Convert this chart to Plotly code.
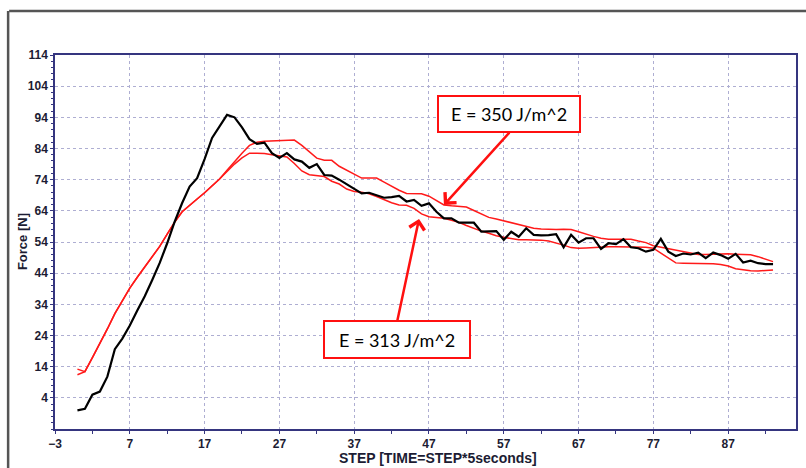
import plotly.graph_objects as go

# ---------------- data ----------------
steps = list(range(0, 94))

measured = [0, 0.5, 5, 6, 10.8, 19.6, 23, 27.2, 32, 36.6,
            41.8, 47.3, 53.6, 60.5, 66.5, 71.8, 74.5, 80.6, 87.4, 91.2,
            94.8, 94, 90.8, 87, 85.5, 85.9, 82.5, 81, 82.5, 80.5,
            79.8, 77.8, 79, 75.5, 75.3, 74, 72.5, 71, 69.6, 69.8,
            69, 68.2, 68.4, 68.8, 67, 67.5, 65.6, 66.4, 63.7, 61.6,
            61.6, 60.2, 60.2, 60.2, 57.3, 57.5, 57.5, 54.7, 57.3, 55.7,
            58.4, 56.3, 56.1, 56.2, 56.5, 52.3, 56.3, 53.8, 55.2, 55.2,
            51.8, 53.6, 53.3, 54.9, 52.3, 52, 50.9, 51.5, 55, 50.9,
            49.5, 50.3, 50, 50.6, 48.8, 50.6, 49.8, 48.6, 50.2, 47.4,
            48, 47.2, 46.9, 46.9]

sim_350 = [13.2, 12.4, 16.9, 21.4, 26.1, 31, 35.2, 39.2, 42.7, 46,
           49.3, 52.6, 56.5, 60.4, 63.7, 65.9, 67.8, 69.8, 71.9, 74.2,
           77, 79.8, 82.5, 85, 86, 86.3, 86.4, 86.5, 86.6, 86.7,
           85, 83, 80.9, 80.2, 80.2, 78.3, 77, 75.7, 74.5, 74.5,
           74.5, 73.2, 71.8, 70.6, 69.6, 69.5, 69.5, 68.7, 67.3, 65.9,
           65.6, 65.4, 65.2, 64.1, 63, 61.9, 61.4, 60.8, 60.2, 59.6,
           59, 58.4, 58.2, 58, 58, 58.1, 58, 57.3, 56.5, 55.8,
           55.2, 54.9, 54.9, 54.9, 54.9, 54.3, 53.8, 52.8, 52.3, 51.8,
           51.3, 50.9, 50.4, 50, 50, 50.1, 50.2, 50.2, 50.1, 50.1,
           49.9, 49.3, 48.5, 47.7]

sim_313 = [11.4, 12.4, 16.9, 21.4, 26.1, 31, 35.2, 39.2, 42.7, 46,
           49.3, 52.6, 56.5, 60.4, 63.7, 65.9, 67.8, 69.8, 71.9, 74.2,
           76.6, 79, 81, 82.5, 82.5, 82.4, 82, 81.7, 81.3, 79.2,
           76.8, 75.6, 75.3, 75, 73.5, 72.6, 71, 70.2, 70, 69.5,
           68.6, 67.6, 66.6, 65.9, 65.8, 64.8, 63, 62.1, 61.8, 61.6,
           61, 60.3, 59.3, 58.3, 57.5, 56.8, 56, 55.5, 55.1, 54.7,
           54.7, 54.7, 54.6, 54.3, 53.7, 53, 52.2, 52, 52.1, 52.3,
           52.5, 52.5, 52.5, 52.5, 52.5, 52.5, 52.3, 52, 50.5, 48.8,
           47.3, 47.2, 47.2, 47.2, 47.2, 47, 46.8, 46.3, 45.4, 45,
           44.8, 44.7, 44.8, 45]

x_ticks = [-3, 7, 17, 27, 37, 47, 57, 67, 77, 87]
y_ticks = [4, 14, 24, 34, 44, 54, 64, 74, 84, 94, 104, 114]

label_350 = "E = 350 J/m^2"
label_313 = "E = 313 J/m^2"

# ---------------- figure ----------------
fig = go.Figure()
fig.add_trace(go.Scatter(x=steps, y=sim_350, mode="lines",
                         line=dict(color="#ff1a1a", width=1.5), name="E=350"))
fig.add_trace(go.Scatter(x=steps, y=sim_313, mode="lines",
                         line=dict(color="#ff1a1a", width=1.5), name="E=313"))
fig.add_trace(go.Scatter(x=steps, y=measured, mode="lines",
                         line=dict(color="#000000", width=2.2), name="Measured"))

axis_col = "#35357f"
grid_col = "#aeaed2"
tick_font = dict(family="Liberation Sans, Arial", size=12, color="#1c1c33", weight=700)

fig.update_xaxes(range=[-3, 96.07], tickvals=x_ticks, showgrid=True,
                 gridcolor=grid_col, griddash="dot", gridwidth=1,
                 showline=True, linecolor=axis_col, linewidth=1.5, mirror=True,
                 ticks="outside", ticklen=3, tickcolor=axis_col,
                 minor=dict(dtick=5, tick0=2, ticks="outside", ticklen=3,
                            tickcolor=axis_col, showgrid=False),
                 tickfont=tick_font, zeroline=False)
fig.update_yaxes(range=[-6, 114], tickvals=y_ticks, showgrid=True,
                 gridcolor=grid_col, griddash="dot", gridwidth=1,
                 showline=True, linecolor=axis_col, linewidth=1.5, mirror=True,
                 ticks="outside", ticklen=3, tickcolor=axis_col,
                 minor=dict(dtick=2, tick0=0, ticks="outside", ticklen=2,
                            tickcolor=axis_col, showgrid=False),
                 tickfont=tick_font, zeroline=False)

ytitle_font = dict(family="Liberation Sans, Arial", size=13, color="#1c1c33", weight=700)
xtitle_font = dict(family="Liberation Sans, Arial", size=14, color="#1c1c33", weight=700)
ann_font = dict(family="Lato, Open Sans", size=18, color="#000000")

fig.update_layout(
    width=806, height=468,
    margin=dict(l=55, r=8, t=55, b=39),
    paper_bgcolor="white", plot_bgcolor="white",
    showlegend=False,
    annotations=[
        dict(text="Force [N]", xref="paper", yref="paper", x=-0.0444, y=0.5,
             textangle=-90, showarrow=False, font=ytitle_font,
             xanchor="center", yanchor="middle"),
        dict(text="STEP [TIME=STEP*5seconds]", xref="paper", yref="paper",
             x=0.517, y=-0.0775, showarrow=False, font=xtitle_font,
             xanchor="center", yanchor="middle"),
        # arrows
        dict(text="", x=49.0, y=65.9, ax=57.93, ay=89.6, xref="x", yref="y",
             axref="x", ayref="y", showarrow=True, arrowhead=4, arrowsize=1.2,
             arrowwidth=2.5, arrowcolor="#ff1010"),
        dict(text="", x=45.67, y=61.4, ax=42.73, ay=28.3, xref="x", yref="y",
             axref="x", ayref="y", showarrow=True, arrowhead=4, arrowsize=1.2,
             arrowwidth=2.5, arrowcolor="#ff1010"),
        # label boxes
        dict(text=label_350, x=57.73, y=95.07, xref="x", yref="y",
             showarrow=False, font=ann_font, bgcolor="white",
             bordercolor="#ff1010", borderwidth=2, borderpad=5,
             width=130, height=24),
        dict(text=label_313, x=42.67, y=22.7, xref="x", yref="y",
             showarrow=False, font=ann_font, bgcolor="white",
             bordercolor="#ff1010", borderwidth=2, borderpad=5,
             width=134, height=25),
    ],
    shapes=[
        dict(type="line", xref="paper", yref="paper",
             x0=(9 - 55) / 743, x1=(810 - 55) / 743,
             y0=(429 - 11) / 374, y1=(429 - 11) / 374,
             line=dict(color="#555555", width=2.5)),
        dict(type="line", xref="paper", yref="paper",
             x0=(8 - 55) / 743, x1=(8 - 55) / 743,
             y0=(429 - 11) / 374, y1=(429 - 470) / 374,
             line=dict(color="#555555", width=2.5)),
    ],
)

fig.write_html("out.html")
